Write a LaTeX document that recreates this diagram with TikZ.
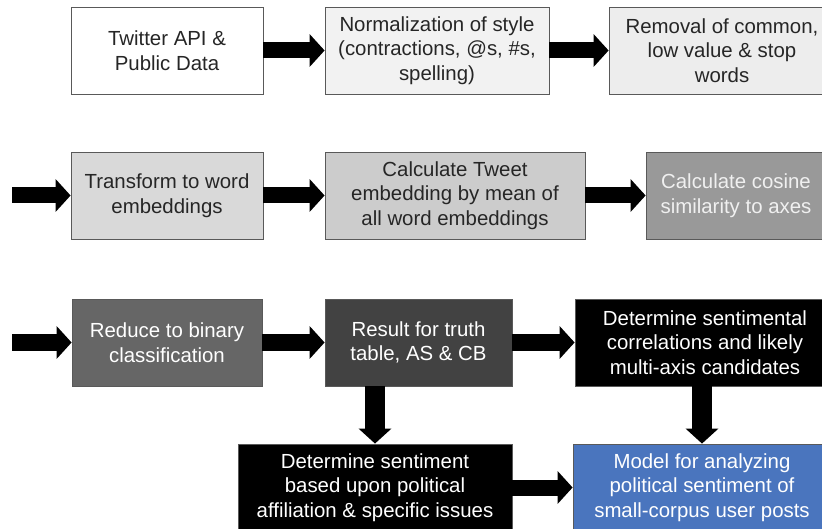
\documentclass[tikz,border=0pt]{standalone}
\usepackage{fontspec}
\setmainfont{Liberation Sans}
\usetikzlibrary{arrows.meta}
\definecolor{BoxBlue}{HTML}{4A75BE}
\tikzset{Flow Box/.style = {draw = black!65, line width = 0.8pt, minimum height = 87pt,
  align = center, inner sep = 2pt, text = black!85, font = \fontsize{20.4}{24.5}\selectfont}}
\tikzset{Flow Arrow/.style = {line width = 16pt, -{Triangle[length = 15pt, width = 32pt]}}}

\begin{document}
\begin{tikzpicture}[x = 1pt, y = -1pt]
  \useasboundingbox (0, 0) rectangle (822, 529);
  \clip (0, 0) rectangle (822, 529);

  \node[Flow Box, minimum width = 192pt, fill = white] (S1) at (167, 50.5)
  {Twitter API \&\\Public Data};
  \node[Flow Box, minimum width = 224pt, fill = black!5] (S2) at (437, 50.5)
  {Normalization of style\\(contractions, @s, \#s,\\spelling)};
  \node[Flow Box, minimum width = 226pt, fill = black!7] (S3) at (722, 50.5)
  {Removal of common,\\low value \& stop\\words};

  \node[Flow Box, minimum width = 192pt, fill = black!15] (S4) at (167, 195.5)
  {Transform to word\\embeddings};
  \node[Flow Box, minimum width = 260pt, fill = black!20] (S5) at (455, 195.5)
  {Calculate Tweet\\embedding by mean of\\all word embeddings};
  \node[Flow Box, minimum width = 180pt, fill = black!40, text = black!6] (S6) at (736, 195.5)
  {Calculate cosine\\similarity to axes};

  \node[Flow Box, minimum width = 190pt, fill = black!60, text = white] (S7) at (167, 342.5)
  {Reduce to binary\\classification};
  \node[Flow Box, minimum width = 187pt, fill = black!74, text = white] (S8) at (418.5, 342.5)
  {Result for truth\\table, AS \& CB};
  \node[Flow Box, minimum width = 260pt, fill = black, text = white] (S9) at (705, 342.5)
  {Determine sentimental\\correlations and likely\\multi-axis candidates};

  \node[Flow Box, minimum width = 274pt, fill = black, text = white] (S10) at (375, 487.5)
  {Determine sentiment\\based upon political\\affiliation \& specific issues};
  \node[Flow Box, minimum width = 258pt, fill = BoxBlue, text = white] (S11) at (702, 487.5)
  {Model for analyzing\\political sentiment of\\small-corpus user posts};

  \coordinate (In2) at (12, 195.5);
  \coordinate (In3) at (12, 342.5);

  \draw[Flow Arrow] (S1) -- (S2);
  \draw[Flow Arrow] (S2) -- (S3);
  \draw[Flow Arrow] (In2) -- (S4.west);
  \draw[Flow Arrow] (S4) -- (S5);
  \draw[Flow Arrow] (S5) -- (S6);
  \draw[Flow Arrow] (In3) -- (S7.west);
  \draw[Flow Arrow] (S7) -- (S8);
  \draw[Flow Arrow] (S8) -- (S9);
  \draw[Flow Arrow] (S10) -- (S11);

  \draw[Flow Arrow, line width = 20pt] (S8.south -| S10.north) -- (S10.north);
  \draw[Flow Arrow, line width = 20pt] (S9.south -| S11.north) -- (S11.north);
\end{tikzpicture}
\end{document}
